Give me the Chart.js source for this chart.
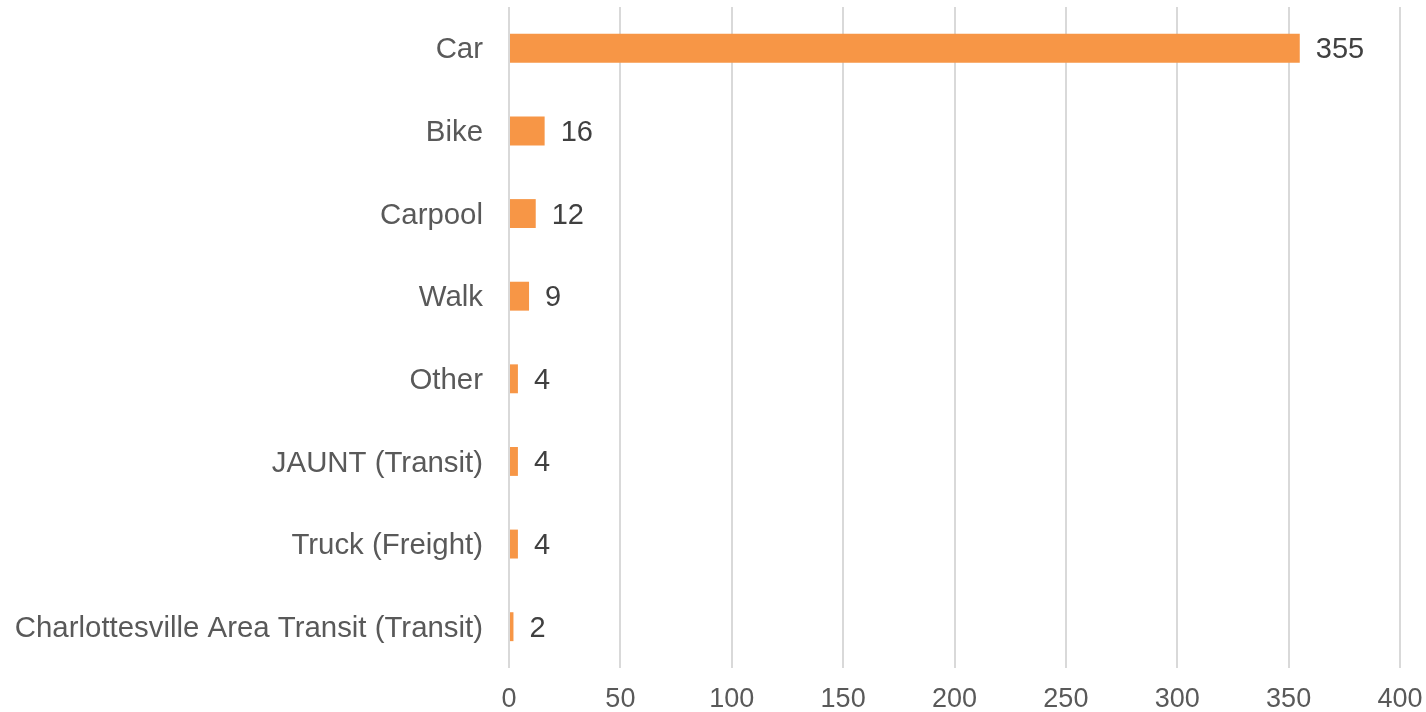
<!DOCTYPE html>
<html>
<head>
<meta charset="utf-8">
<script src="https://cdn.jsdelivr.net/npm/chart.js@4/dist/chart.umd.min.js"></script>
<style>
html,body{margin:0;padding:0;background:#fff;}
#wrap{width:1426px;height:712px;}
</style>
</head>
<body>
<div id="wrap"><canvas id="c" width="1426" height="712"></canvas></div>
<script>
const categories = ["Car","Bike","Carpool","Walk","Other","JAUNT (Transit)","Truck (Freight)","Charlottesville Area Transit (Transit)"];
const values = [355,16,12,9,4,4,4,2];
const xTicks = [0,50,100,150,200,250,300,350,400];

const FONT = "'Liberation Sans', Arial, sans-serif";

const valueLabels = {
  id: 'valueLabels',
  afterDatasetsDraw(chart) {
    const ctx = chart.ctx;
    const meta = chart.getDatasetMeta(0);
    ctx.save();
    ctx.font = "29px " + FONT;
    ctx.fillStyle = "#404040";
    ctx.textAlign = "left";
    ctx.textBaseline = "middle";
    meta.data.forEach((bar, i) => {
      ctx.fillText(String(values[i]), bar.x + 16, bar.y + 2);
    });
    ctx.restore();
  }
};

new Chart(document.getElementById('c'), {
  type: 'bar',
  data: {
    labels: categories,
    datasets: [{
      data: values,
      backgroundColor: '#F79646',
      borderWidth: 0,
      categoryPercentage: 1,
      barPercentage: 0.35
    }]
  },
  options: {
    indexAxis: 'y',
    responsive: false,
    animation: false,
    devicePixelRatio: 1,
    layout: { padding: { top: 7, right: 26, left: 0, bottom: 0 } },
    plugins: { legend: { display: false }, tooltip: { enabled: false } },
    scales: {
      x: {
        min: 0, max: 400,
        afterBuildTicks(axis) { axis.ticks = xTicks.map(v => ({ value: v })); },
        afterFit(axis) { axis.height = 44; axis.paddingLeft = 0; axis.paddingRight = 0; axis.paddingTop = 0; axis.paddingBottom = 0; },
        grid: { color: '#d9d9d9', lineWidth: 2, drawTicks: false },
        border: { display: false },
        ticks: { color: '#595959', font: { family: FONT, size: 27 }, padding: 15 }
      },
      y: {
        afterFit(axis) { axis.width = 509; axis.paddingTop = 0; axis.paddingBottom = 0; axis.paddingLeft = 0; axis.paddingRight = 0; },
        grid: { display: false, drawTicks: false },
        border: { display: false },
        ticks: { color: '#595959', font: { family: FONT, size: 29.4 }, padding: 26, labelOffset: 2 }
      }
    }
  },
  plugins: [valueLabels]
});
</script>
</body>
</html>
